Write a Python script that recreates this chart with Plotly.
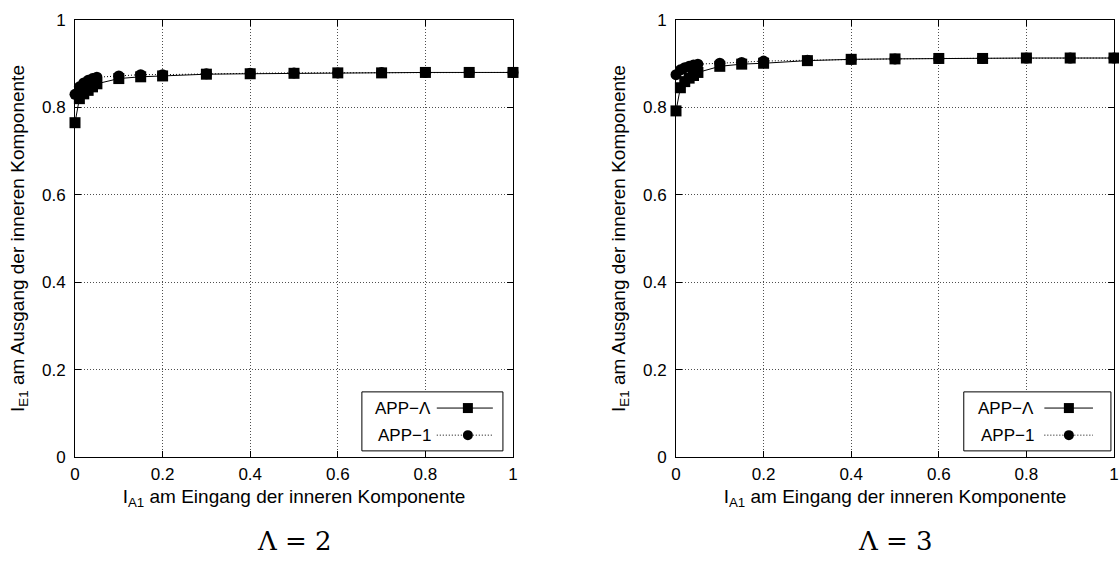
import plotly.graph_objects as go

# Input mutual information I_A1 (shared by all curves)
x_vals = [0.0, 0.01, 0.02, 0.03, 0.04, 0.05, 0.1, 0.15, 0.2, 0.3, 0.4, 0.5, 0.6, 0.7, 0.8, 0.9, 1.0]

# Lambda = 2
lam2_app_lambda = [0.765, 0.820, 0.831, 0.839, 0.847, 0.854, 0.866, 0.870, 0.872, 0.876, 0.877, 0.878, 0.879, 0.879, 0.880, 0.880, 0.880]
lam2_app_one = [0.830, 0.847, 0.856, 0.862, 0.866, 0.869, 0.872, 0.875, 0.875, 0.877, 0.878, 0.879, 0.879, 0.880, 0.880, 0.880, 0.880]

# Lambda = 3
lam3_app_lambda = [0.792, 0.845, 0.859, 0.867, 0.873, 0.880, 0.894, 0.899, 0.901, 0.907, 0.910, 0.911, 0.912, 0.912, 0.913, 0.913, 0.913]
lam3_app_one = [0.875, 0.886, 0.891, 0.894, 0.897, 0.899, 0.901, 0.903, 0.906, 0.908, 0.910, 0.911, 0.912, 0.912, 0.913, 0.913, 0.913]

series_names = ["APP\u2212\u039b", "APP\u22121"]
panel_titles = ["\u039b = 2", "\u039b = 3"]
tick_vals = [0, 0.2, 0.4, 0.6, 0.8, 1]
tick_text = ["0", "0.2", "0.4", "0.6", "0.8", "1"]
x_title = "I<sub>A1</sub> am Eingang der inneren Komponente"
y_title = "I<sub>E1</sub> am Ausgang der inneren Komponente"

W, H = 1119, 561
FONT = "Liberation Sans"

# fixed margins around the combined plotting region (pixels)
ML, MR, MT, MB = 75, 5, 20, 104
PW = W - ML - MR

fig = go.Figure()

panels = [
    (lam2_app_lambda, lam2_app_one, "x", "y"),
    (lam3_app_lambda, lam3_app_one, "x2", "y2"),
]
for ys_l, ys_1, xa, ya in panels:
    fig.add_trace(go.Scatter(
        x=x_vals, y=ys_1, mode="lines+markers", xaxis=xa, yaxis=ya,
        name=series_names[1], showlegend=False, cliponaxis=False,
        line=dict(color="black", width=1, dash="1px,2px"),
        marker=dict(symbol="circle", size=11, color="black"),
    ))
    fig.add_trace(go.Scatter(
        x=x_vals, y=ys_l, mode="lines+markers", xaxis=xa, yaxis=ya,
        name=series_names[0], showlegend=False, cliponaxis=False,
        line=dict(color="black", width=1),
        marker=dict(symbol="square", size=11, color="black"),
    ))

# pixel extents of the two plotting areas
areas = [(75, 513), (676, 1114)]

axis_common = dict(
    range=[0, 1], tickvals=tick_vals, ticktext=tick_text, automargin=False,
    ticklabeloverflow="allow",
    showline=True, linecolor="black", linewidth=1, mirror="ticks",
    ticks="inside", ticklen=6, tickcolor="black", tickwidth=1,
    showgrid=True, gridcolor="rgba(60,60,60,0.9)", gridwidth=1, griddash="1px,2px",
    zeroline=False, tickfont=dict(family=FONT, size=17, color="black"),
)

layout = dict(
    width=W, height=H, margin=dict(l=ML, r=MR, t=MT, b=MB, autoexpand=False),
    plot_bgcolor="white", paper_bgcolor="white", showlegend=False,
    font=dict(family=FONT, color="black"),
)
for i, (x0, x1) in enumerate(areas):
    sfx = "" if i == 0 else str(i + 1)
    layout["xaxis" + sfx] = dict(
        axis_common, domain=[(x0 - ML) / PW, (x1 - ML) / PW], anchor="y" + sfx,
        ticklabelstandoff=2,
        title=dict(text=x_title, font=dict(family=FONT, size=19), standoff=6),
    )
    layout["yaxis" + sfx] = dict(
        axis_common, domain=[0, 1], anchor="x" + sfx,
        ticklabelstandoff=5,
        title=dict(text=y_title, font=dict(family=FONT, size=19), standoff=12),
    )
fig.update_layout(**layout)

# panel captions
for i, (x0, x1) in enumerate(areas):
    fig.add_annotation(
        text=panel_titles[i], xref="paper", yref="paper",
        x=((x0 + x1) / 2 - ML) / PW, y=-(541 - (H - MB)) / (H - MT - MB), showarrow=False,
        font=dict(family="DejaVu Serif", size=26, color="black"),
        xanchor="center", yanchor="middle",
    )

# gnuplot-style key: text on the left, line sample with symbol on the right
keys = [
    dict(xref="x domain", yref="y domain", box=(0.655, 0.977), txt=0.817, line=(0.826, 0.954), mk=0.897),
    dict(xref="x2 domain", yref="y2 domain", box=(0.657, 0.993), txt=0.823, line=(0.841, 0.952), mk=0.897),
]
row_y = [0.112, 0.050]
box_y = (0.014, 0.149)
mw = 10 / 438
mh = 10 / 437
for k in keys:
    xr, yr = k["xref"], k["yref"]
    fig.add_shape(type="rect", xref=xr, yref=yr, x0=k["box"][0], x1=k["box"][1],
                  y0=box_y[0], y1=box_y[1], line=dict(color="black", width=1),
                  fillcolor="white", layer="above")
    for j, name in enumerate(series_names):
        fig.add_annotation(text=name, xref=xr, yref=yr, x=k["txt"], y=row_y[j],
                           xanchor="right", yanchor="middle", showarrow=False,
                           font=dict(family=FONT, size=17, color="black"))
        fig.add_shape(type="line", xref=xr, yref=yr, x0=k["line"][0], x1=k["line"][1],
                      y0=row_y[j], y1=row_y[j], layer="above",
                      line=dict(color="black", width=1, dash="solid" if j == 0 else "1px,2px"))
        fig.add_shape(type="rect" if j == 0 else "circle", xref=xr, yref=yr,
                      x0=k["mk"] - mw / 2, x1=k["mk"] + mw / 2,
                      y0=row_y[j] - mh / 2, y1=row_y[j] + mh / 2,
                      fillcolor="black", line=dict(color="black", width=0), layer="above")

fig.write_html("out.html")
